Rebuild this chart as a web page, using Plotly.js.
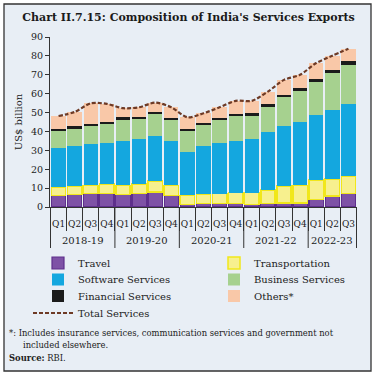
<!DOCTYPE html>
<html>
<head>
<meta charset="utf-8">
<script src="https://cdn.plot.ly/plotly-3.0.1.min.js"></script>
<style>html,body{margin:0;padding:0;background:#fff;}#chart{width:377px;height:376px;}</style>
</head>
<body>
<div id="chart"></div>
<script>
// Category labels (fiscal year / quarter)
const yearLabels = ['2018-19','2018-19','2018-19','2018-19',
                    '2019-20','2019-20','2019-20','2019-20',
                    '2020-21','2020-21','2020-21','2020-21',
                    '2021-22','2021-22','2021-22','2021-22',
                    '2022-23','2022-23','2022-23'];
const quarterLabels = ['Q1','Q2','Q3','Q4','Q1','Q2','Q3','Q4','Q1','Q2','Q3','Q4',
                       'Q1','Q2','Q3','Q4','Q1','Q2','Q3'];

// Series values (US$ billion)
const travel         = [6.2, 6.7, 7.1, 7.1, 6.7, 7.1, 8.0, 6.2, 1.2, 1.8, 1.8, 1.8, 1.4, 1.8, 2.1, 2.1, 4.1, 5.7, 7.1];
const transportation = [4.4, 4.5, 4.4, 5.0, 4.8, 5.0, 5.7, 5.3, 5.0, 4.9, 5.3, 5.8, 6.2, 7.1, 8.9, 9.4, 10.1, 9.0, 9.2];
const software       = [20.8, 21.1, 21.8, 21.9, 23.4, 23.9, 23.9, 23.6, 22.9, 25.6, 26.6, 27.5, 28.2, 30.6, 32.0, 33.3, 34.7, 36.8, 38.1];
const business       = [9.0, 9.2, 9.6, 10.1, 11.2, 10.4, 11.7, 11.0, 11.3, 11.1, 12.2, 13.1, 12.4, 13.6, 15.5, 16.8, 17.5, 19.2, 20.9];
const financial      = [0.9, 1.4, 1.0, 1.1, 1.4, 1.1, 1.2, 1.2, 1.0, 1.2, 1.1, 1.1, 1.4, 1.5, 1.0, 1.5, 1.6, 1.9, 2.1];
const others         = [6.9, 7.4, 11.0, 9.4, 4.8, 5.3, 4.8, 5.5, 6.1, 5.0, 5.8, 6.9, 6.6, 6.5, 7.8, 6.9, 8.2, 7.5, 6.4];
const totalServices  = [48.2, 50.3, 54.9, 54.6, 52.3, 52.8, 55.3, 52.8, 47.5, 49.6, 52.8, 56.2, 56.2, 61.1, 67.3, 70.0, 76.2, 80.1, 83.8];

// unique category keys; quarter shown as tick text, fiscal year as group label
const x = yearLabels.map((y, i) => y + ' ' + quarterLabels[i]);
const serif = 'DejaVu Serif, Liberation Serif, serif';

function bar(name, y, fill, legendId, lineColor, lineWidth) {
  return {type: 'bar', name: name, x: x, y: y, legend: legendId,
          marker: {color: fill, line: {color: lineColor || fill, width: lineWidth || 0}},
          hoverinfo: 'skip'};
}

const data = [
  bar('Travel', travel, '#7e52a6', 'legend', '#5e2f8c', 1.2),
  bar('Transportation', transportation, '#f7f08e', 'legend', '#f1e71a', 1.5),
  bar('Software Services', software, '#14a7df', 'legend2'),
  bar('Business Services', business, '#a6d18f', 'legend2'),
  bar('Financial Services', financial, '#1b1b1b', 'legend3'),
  bar('Others*', others, '#f9c8a8', 'legend3'),
  {type: 'scatter', mode: 'lines', name: 'Total Services', x: x, y: totalServices, legend: 'legend4',
   line: {color: '#6e3a25', width: 2.2, dash: '4px,2px', shape: 'spline', smoothing: 0.8},
   hoverinfo: 'skip'}
];

const W = 377, H = 376, ml = 50, mr = 20, mt = 37, mb = 169;
const pw = W - ml - mr, ph = H - mt - mb;
const px = v => (v - ml) / pw;
const py = v => (H - mb - v) / ph;

// fiscal-year groups: boundaries and centres (in category index units)
const groups = [];
yearLabels.forEach((y, i) => {
  if (!groups.length || groups[groups.length - 1].name !== y) groups.push({name: y, start: i, end: i});
  else groups[groups.length - 1].end = i;
});
const dividerShapes = [];
groups.forEach((g, k) => {
  dividerShapes.push({type: 'line', xref: 'x', yref: 'paper', x0: g.start - 0.5, x1: g.start - 0.5,
                      y0: 0, y1: py(248), line: {color: '#333', width: 1}});
  if (k === groups.length - 1)
    dividerShapes.push({type: 'line', xref: 'x', yref: 'paper', x0: g.end + 0.5, x1: g.end + 0.5,
                        y0: 0, y1: py(248), line: {color: '#333', width: 1}});
});
const yearAnnotations = groups.map(g => ({
  xref: 'x', yref: 'paper', x: (g.start + g.end) / 2, y: py(240), xanchor: 'center', yanchor: 'middle',
  showarrow: false, text: g.name, font: {family: serif, size: 10, color: '#222'}
}));

function legendRow(xPix, topPix, itemwidth) {
  return {orientation: 'h', x: px(xPix), xanchor: 'left', y: py(topPix), yanchor: 'top',
          entrywidth: 131, entrywidthmode: 'pixels', traceorder: 'normal',
          font: {family: serif, size: 10, color: '#222'}, bgcolor: 'rgba(0,0,0,0)',
          itemwidth: itemwidth, tracegroupgap: 0};
}

const layout = {
  width: W, height: H,
  margin: {l: ml, r: mr, t: mt, b: mb, pad: 0, autoexpand: false},
  paper_bgcolor: '#ffffff',
  plot_bgcolor: 'rgba(0,0,0,0)',
  barmode: 'stack',
  bargap: 0.11,
  font: {family: serif, size: 10, color: '#222'},
  title: {text: "<b>Chart II.7.15: Composition of India's Services Exports</b>",
          font: {family: serif, size: 11, color: '#1a1a1a'},
          x: 0.5, xanchor: 'center', xref: 'container', y: 1 - 17 / H, yanchor: 'middle', yref: 'container'},
  xaxis: {type: 'category', tickmode: 'array', tickvals: x, ticktext: quarterLabels,
          showline: true, linecolor: '#333', linewidth: 1,
          ticks: 'outside', tickson: 'boundaries', ticklen: 23, tickcolor: '#333', tickwidth: 1,
          tickangle: 0, ticklabelstandoff: 8, automargin: false,
          tickfont: {family: serif, size: 9, color: '#222'}, showgrid: false, zeroline: false},
  yaxis: {range: [0, 90], dtick: 10, showline: true, linecolor: '#333', linewidth: 1,
          ticks: 'outside', ticklen: 4, tickcolor: '#333', showgrid: false, zeroline: false,
          automargin: false,
          tickfont: {family: serif, size: 9.5, color: '#222'},
          title: {text: 'US$ billion', font: {family: serif, size: 10, color: '#222'}, standoff: 6}},
  showlegend: true,
  legend: legendRow(38, 248.5, 30),
  legend2: legendRow(38, 265, 30),
  legend3: legendRow(38, 281.5, 30),
  legend4: legendRow(28, 298.5, 40),
  shapes: [{type: 'rect', xref: 'paper', yref: 'paper', layer: 'below',
            x0: px(4), x1: px(371), y0: py(371), y1: py(4),
            fillcolor: '#e8eef5', line: {color: '#333', width: 1.3}}].concat(dividerShapes),
  annotations: yearAnnotations.concat([
    {xref: 'paper', yref: 'paper', x: px(7), y: py(333), xanchor: 'left', yanchor: 'middle', showarrow: false,
     text: '*: Includes insurance services, communication services and government not',
     font: {family: serif, size: 8.4, color: '#222'}},
    {xref: 'paper', yref: 'paper', x: px(21), y: py(345), xanchor: 'left', yanchor: 'middle', showarrow: false,
     text: 'included elsewhere.', font: {family: serif, size: 8.4, color: '#222'}},
    {xref: 'paper', yref: 'paper', x: px(7), y: py(358), xanchor: 'left', yanchor: 'middle', showarrow: false,
     text: '<b>Source:</b> RBI.', font: {family: serif, size: 8.4, color: '#222'}}
  ])
};

Plotly.newPlot('chart', data, layout, {staticPlot: true, displayModeBar: false});
</script>
</body>
</html>
